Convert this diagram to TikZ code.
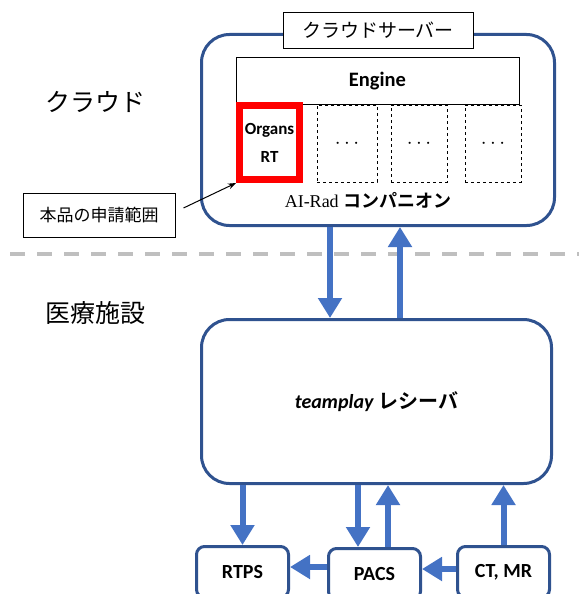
\documentclass[tikz,border=0pt]{standalone}
\usepackage{fontspec}
\setmainfont{Liberation Serif}
\newfontfamily\jpfont{Noto Sans CJK JP}[BoldFont={Noto Sans CJK JP Bold}]
\newfontfamily\calib{Carlito}
\usetikzlibrary{arrows.meta}
\definecolor{boxblue}{HTML}{2F528F}
\definecolor{arrowblue}{HTML}{4472C4}
\definecolor{sepgray}{HTML}{BFBFBF}
\tikzset{
  bigbox/.style={draw=boxblue, line width=3pt, rounded corners=28pt, inner sep=0pt},
  sysbox/.style={draw=boxblue, line width=3pt, rounded corners=8pt, fill=white,
    minimum width=92pt, minimum height=51pt, inner sep=0pt, font=\calib\bfseries\fontsize{20}{24}\selectfont},
  flow/.style={arrowblue, line width=6pt, -{Triangle[width=23pt,length=20pt]}},
  modbox/.style={draw, dashed, fill=white, inner sep=0pt, minimum height=77pt,
    font=\fontsize{20}{24}\selectfont},
}
\begin{document}
\begin{tikzpicture}[x=1pt, y=-1pt]
  \useasboundingbox (0,0) rectangle (579,594);

  % cloud side
  \node[bigbox, minimum width=353pt, minimum height=191pt] (cloud) at (378,130) {};
  \node[draw, fill=white, minimum width=190pt, minimum height=36pt, inner sep=0pt,
    font=\jpfont\fontsize{19}{22}\selectfont] (server) at (378,30) {クラウドサーバー};
  \node[draw, minimum width=283pt, minimum height=47pt, inner sep=0pt,
    font=\calib\bfseries\fontsize{20.5}{24}\selectfont] (engine) at (377.5,81) {Engine};
  \node[modbox, minimum width=60pt] (mod1) at (347,143.5) {$\cdots$};
  \node[modbox, minimum width=56pt] (mod2) at (419,143.5) {$\cdots$};
  \node[modbox, minimum width=56pt] (mod3) at (493,143.5) {$\cdots$};
  \node[draw=red, line width=7pt, fill=white, minimum width=60pt, minimum height=74pt,
    inner sep=0pt, align=center, font=\calib\bfseries\fontsize{17}{28}\selectfont]
    (organs) at (269.5,142.5) {Organs\\RT};
  \node[font=\fontsize{18}{20}\selectfont] (airad) at (368,200)
    {AI-Rad \jpfont\bfseries コンパニオン};

  \node[font=\jpfont\fontsize{25}{28}\selectfont] (cloudlbl) at (95,102) {クラウド};
  \node[draw, line width=1pt, minimum width=152pt, minimum height=44pt, inner sep=0pt,
    font=\jpfont\fontsize{17}{20}\selectfont] (note) at (99,215) {本品の申請範囲};
  \draw[-{Stealth[length=8pt]}, line width=1pt] (note.east) ++(8,-7) -- (organs.south west);

  % separator
  \draw[sepgray, line width=4pt, dash pattern=on 15pt off 12pt] (10,254) -- (579,254);

  % facility side
  \node[font=\jpfont\fontsize{25}{28}\selectfont] (sitelbl) at (95,313) {医療施設};
  \node[bigbox, minimum width=350pt, minimum height=164pt,
    font=\fontsize{20}{24}\selectfont] (tp) at (376.5,401.5)
    {{\calib\bfseries\itshape teamplay} \jpfont\bfseries レシーバ};

  \node[sysbox] (rtps) at (242.5,572) {RTPS};
  \node[sysbox] (pacs) at (374.5,574) {PACS};
  \node[sysbox] (ctmr) at (503.5,572) {CT, MR};

  % data flow
  \draw[flow] (cloud.south -| 330,0) -- (tp.north -| 330,0);
  \draw[flow] (tp.north -| 400,0) -- (cloud.south -| 400,0);
  \draw[flow] (tp.south -| rtps.north) -- (rtps.north);
  \draw[flow] (tp.south -| 358,0) -- (pacs.north -| 358,0);
  \draw[flow] (pacs.north -| 388,0) -- (tp.south -| 388,0);
  \draw[flow] (ctmr.north) -- (tp.south -| ctmr.north);
  \draw[flow] (pacs.west |- 0,567) -- (rtps.east |- 0,567);
  \draw[flow] (ctmr.west |- 0,569) -- (pacs.east |- 0,569);
\end{tikzpicture}
\end{document}
